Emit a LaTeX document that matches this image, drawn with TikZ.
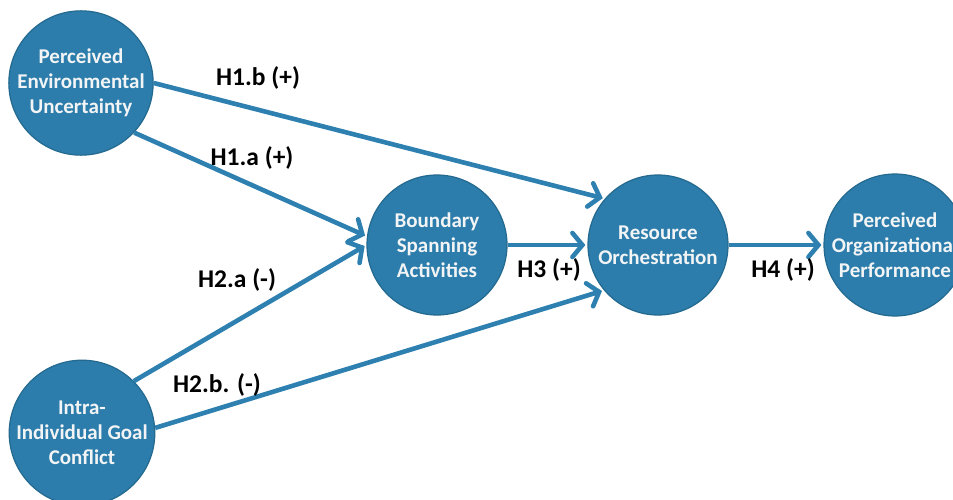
\documentclass[tikz,border=0pt]{standalone}
\usepackage{fontspec}
\setmainfont{Carlito}
\usetikzlibrary{arrows.meta}
\definecolor{cfill}{HTML}{2C7DAB}
\definecolor{cedge}{HTML}{24698F}
\definecolor{ctext}{HTML}{F2F4F5}
\definecolor{cline}{HTML}{2D80B0}
\tikzset{
  construct/.style={circle, fill=cfill, draw=cedge, line width=1.2pt, minimum size=140pt, inner sep=0pt,
    align=center, text=ctext, font=\fontsize{21}{25}\selectfont\bfseries},
  path/.style={draw=cline, line width=4.6pt, -{Straight Barb[length=10pt, width=24pt, line width=4.6pt, line cap=round]}, shorten >=2pt},
  hyp/.style={font=\fontsize{25.5}{30}\selectfont\bfseries, text=black}
}
\begin{document}
\begin{tikzpicture}[x=1pt, y=-1pt]
\useasboundingbox (0,0) rectangle (953,500);
\node[construct] (peu) at (81,83) {Perceived\\Environmental\\Uncertainty};
\node[construct] (iigc) at (82,433) {Intra-\\Individual Goal\\Conflict};
\node[construct] (bsa) at (437,245) {Boundary\\Spanning\\Activities};
\node[construct] (ro) at (658,245) {Resource\\Orchestration};
\node[construct] (pop) at (895,245) {Perceived\\Organizational\\Performance};

\draw[path] (peu.east) -- (ro.139);
\draw[path] (peu.-43) -- (bsa.173);
\draw[path] (iigc.45) -- (bsa.180);
\draw[path] (iigc.4) -- (ro.220);
\draw[path] (bsa.east) -- (ro.west);
\draw[path] (ro.east) -- (pop.west);

\node[hyp] (l1b) at (258,78) {H1.b (+)};
\node[hyp] (l1a) at (252,158) {H1.a (+)};
\node[hyp] (l2a) at (237,280) {H2.a (-)};
\node[hyp] (l2b) at (217,385) {H2.b. (-)};
\node[hyp] (l3) at (549,270) {H3 (+)};
\node[hyp] (l4) at (783,270) {H4 (+)};
\end{tikzpicture}
\end{document}
